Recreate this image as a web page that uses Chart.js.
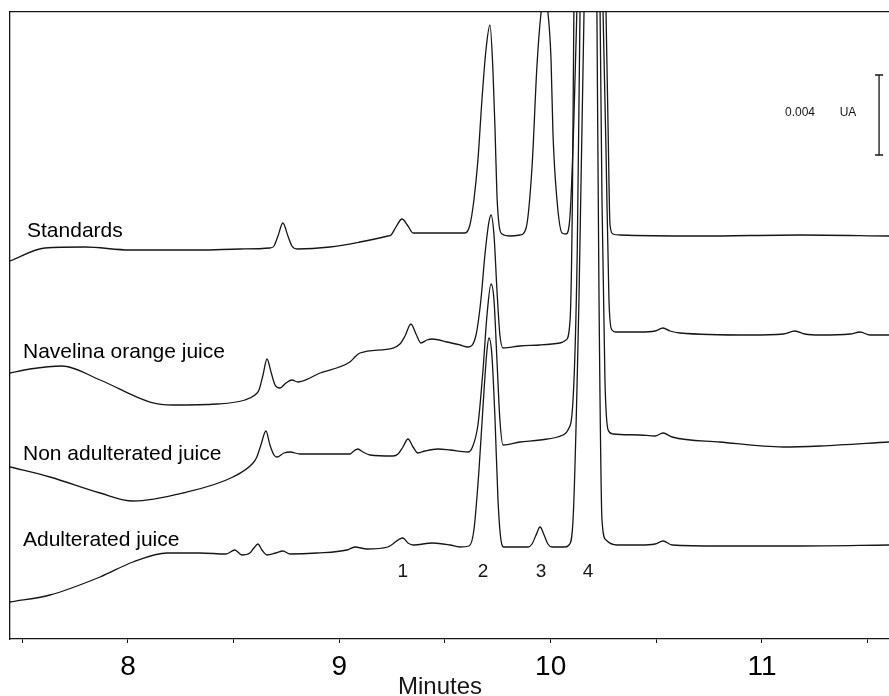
<!DOCTYPE html>
<html lang="en">
  <head>
    <meta charset="UTF-8" />
    <title>Chromatograms</title>
    <script src="https://cdn.jsdelivr.net/npm/chart.js"></script>
    <style>
      body { margin: 0; background: #fff; }
    </style>
  </head>
  <body>
    <canvas id="chromChart" width="889" height="696"></canvas>

    <script>
      // [retention time (min), absorbance (mAU)] - traces stacked as printed
      const standards = [
        [7.442, 18.9], [7.607, 19.55], [7.797, 19.6], [8.009, 19.45], [8.341, 19.45], [8.53, 19.5],
        [8.672, 19.55], [8.691, 19.65], [8.71, 20.15], [8.733, 20.8], [8.757, 20.15], [8.776, 19.65],
        [8.8, 19.5], [8.956, 19.6], [9.098, 19.85], [9.23, 20.15], [9.245, 20.2], [9.268, 20.6],
        [9.297, 21.0], [9.325, 20.65], [9.349, 20.3], [9.476, 20.3], [9.595, 20.3], [9.618, 20.7],
        [9.637, 21.95], [9.656, 23.95], [9.675, 26.95], [9.694, 29.45], [9.713, 30.7], [9.727, 28.45],
        [9.737, 25.45], [9.746, 22.2], [9.756, 20.7], [9.77, 20.25], [9.808, 20.15], [9.855, 20.2],
        [9.884, 20.55], [9.912, 23.6], [9.935, 28.6], [9.954, 31.25], [9.969, 32.2], [9.987, 31.35],
        [10.002, 28.95], [10.011, 25.3], [10.03, 21.95], [10.054, 20.3], [10.073, 20.25], [10.092, 21.2],
        [10.11, 25.95], [10.124, 31.35], [10.196, 61.95], [10.262, 31.35], [10.272, 25.45], [10.281, 20.7],
        [10.295, 20.25], [10.328, 20.2], [10.707, 20.15], [11.18, 20.2], [11.601, 20.15]
      ];
      const navelina = [
        [7.442, 13.3], [7.536, 13.5], [7.688, 13.65], [7.868, 12.95], [8.104, 11.85], [8.213, 11.7],
        [8.421, 11.75], [8.554, 11.95], [8.601, 12.2], [8.62, 12.45], [8.639, 13.2], [8.658, 14.0],
        [8.677, 13.35], [8.696, 12.7], [8.719, 12.55], [8.748, 12.8], [8.776, 12.95], [8.804, 12.85],
        [8.909, 13.3], [9.05, 13.85], [9.079, 14.15], [9.098, 14.3], [9.254, 14.55], [9.287, 14.75],
        [9.311, 15.15], [9.339, 15.75], [9.363, 15.25], [9.386, 14.8], [9.415, 14.95], [9.439, 15.0],
        [9.51, 14.85], [9.571, 14.7], [9.609, 14.6], [9.647, 15.2], [9.67, 16.95], [9.689, 19.2],
        [9.708, 20.85], [9.718, 21.2], [9.732, 20.2], [9.746, 17.45], [9.76, 15.2], [9.775, 14.55],
        [9.855, 14.65], [9.95, 14.7], [10.044, 14.8], [10.073, 14.95], [10.092, 15.95], [10.103, 21.95],
        [10.11, 31.35], [10.177, 61.95], [10.248, 31.35], [10.262, 24.45], [10.276, 16.95], [10.29, 15.45],
        [10.309, 15.35], [10.423, 15.35], [10.494, 15.4], [10.532, 15.55], [10.565, 15.4], [10.612, 15.3],
        [10.943, 15.2], [11.1, 15.25], [11.156, 15.4], [11.203, 15.25], [11.275, 15.2], [11.417, 15.25],
        [11.464, 15.35], [11.511, 15.2], [11.601, 15.2]
      ];
      const nonAdulterated = [
        [7.442, 8.6], [7.631, 8.1], [7.868, 7.3], [8.024, 6.9], [8.26, 7.3], [8.497, 8.1],
        [8.592, 8.8], [8.61, 9.1], [8.629, 9.7], [8.653, 10.4], [8.672, 9.7], [8.691, 9.2],
        [8.705, 9.1], [8.738, 9.3], [8.767, 9.35], [8.814, 9.25], [8.894, 9.25], [9.05, 9.25],
        [9.069, 9.4], [9.088, 9.5], [9.112, 9.35], [9.145, 9.2], [9.254, 9.15], [9.278, 9.25],
        [9.301, 9.6], [9.325, 10.0], [9.349, 9.6], [9.372, 9.3], [9.405, 9.4], [9.467, 9.5],
        [9.524, 9.45], [9.609, 9.35], [9.628, 9.55], [9.656, 10.7], [9.68, 13.45], [9.699, 16.2],
        [9.718, 17.75], [9.732, 16.95], [9.746, 13.95], [9.76, 10.95], [9.775, 9.7], [9.855, 9.85],
        [9.95, 9.95], [10.058, 10.2], [10.082, 10.45], [10.106, 11.95], [10.126, 19.45], [10.139, 31.35],
        [10.186, 61.95], [10.234, 31.35], [10.243, 21.95], [10.257, 12.95], [10.272, 10.45], [10.295, 10.25],
        [10.423, 10.2], [10.494, 10.15], [10.532, 10.3], [10.575, 10.1], [10.801, 9.85], [11.1, 9.6],
        [11.275, 9.65], [11.601, 9.85]
      ];
      const adulterated = [
        [7.442, 1.85], [7.631, 2.2], [7.868, 3.1], [8.024, 3.85], [8.185, 4.3], [8.341, 4.3],
        [8.464, 4.25], [8.506, 4.45], [8.539, 4.2], [8.577, 4.3], [8.596, 4.55], [8.615, 4.75],
        [8.634, 4.45], [8.658, 4.2], [8.7, 4.3], [8.733, 4.4], [8.767, 4.25], [8.894, 4.3],
        [9.036, 4.45], [9.074, 4.6], [9.131, 4.5], [9.23, 4.6], [9.301, 5.05], [9.325, 4.8],
        [9.349, 4.7], [9.443, 4.8], [9.524, 4.7], [9.571, 4.6], [9.614, 4.65], [9.637, 5.45],
        [9.661, 8.45], [9.685, 12.45], [9.699, 14.45], [9.708, 15.05], [9.722, 14.2], [9.737, 10.95],
        [9.751, 6.95], [9.765, 4.95], [9.779, 4.6], [9.893, 4.6], [9.912, 4.75], [9.931, 5.2],
        [9.95, 5.6], [9.969, 5.2], [9.987, 4.75], [10.006, 4.6], [10.068, 4.6], [10.087, 4.7],
        [10.106, 5.95], [10.134, 16.95], [10.158, 31.35], [10.196, 61.95], [10.219, 31.35], [10.229, 16.95],
        [10.243, 5.95], [10.262, 4.95], [10.314, 4.7], [10.423, 4.7], [10.494, 4.75], [10.532, 4.9],
        [10.575, 4.7], [10.801, 4.65], [11.18, 4.65], [11.601, 4.7]
      ];

      const traceNames = ["Standards", "Navelina orange juice", "Non adulterated juice", "Adulterated juice"];
      const xTickValues = [7.5, 8, 8.5, 9, 9.5, 10, 10.5, 11, 11.5];
      const xTickText = ["", "8", "", "9", "", "10", "", "11", ""];
      const peakNames = ["1", "2", "3", "4"];
      const peakTimes = [9.301, 9.68, 9.955, 10.177];
      const scaleBarTime = 11.554;
      const scaleBarAbs = [24.2, 28.2]; // 0.004 AU

      const xMin = 7.442;
      const xMax = 11.601;
      const font = "'Liberation Sans', Arial, sans-serif";
      const ink = "#161616";

      // text labels and the absorbance scale bar
      const annotations = {
        id: "annotations",
        afterDatasetsDraw(chart) {
          const { ctx, scales } = chart;
          const x = scales.x;
          const y = scales.y;
          const labelPos = [[27, 237], [23, 358], [23, 460], [23, 546]];
          ctx.save();
          ctx.fillStyle = "#000";
          ctx.textBaseline = "alphabetic";

          ctx.font = "21px " + font;
          ctx.textAlign = "left";
          traceNames.forEach((name, i) => ctx.fillText(name, labelPos[i][0], labelPos[i][1]));

          ctx.fillStyle = ink;
          ctx.font = "19px " + font;
          ctx.textAlign = "center";
          peakNames.forEach((n, i) => ctx.fillText(n, x.getPixelForValue(peakTimes[i]), 577));

          const bx = x.getPixelForValue(scaleBarTime);
          const yLo = y.getPixelForValue(scaleBarAbs[0]);
          const yHi = y.getPixelForValue(scaleBarAbs[1]);
          ctx.strokeStyle = ink;
          ctx.lineWidth = 1.3;
          ctx.beginPath();
          ctx.moveTo(bx, yLo);
          ctx.lineTo(bx, yHi);
          ctx.moveTo(bx - 4, yLo);
          ctx.lineTo(bx + 4, yLo);
          ctx.moveTo(bx - 4, yHi);
          ctx.lineTo(bx + 4, yHi);
          ctx.stroke();

          ctx.font = "12px " + font;
          ctx.fillText("0.004", 800, 116);
          ctx.fillText("UA", 848, 116);

          ctx.font = "24px " + font;
          ctx.fillText("Minutes", 440, 694);
          ctx.restore();
        },
      };

      const traces = [standards, navelina, nonAdulterated, adulterated];

      new Chart(document.getElementById("chromChart"), {
        type: "line",
        data: {
          datasets: traces.map((t, i) => ({
            label: traceNames[i],
            data: t,
            borderColor: ink,
            borderWidth: 1.3,
            pointRadius: 0,
            cubicInterpolationMode: "monotone",
            borderJoinStyle: "round",
            fill: false,
          })),
        },
        options: {
          responsive: false,
          animation: false,
          events: [],
          layout: { padding: { left: 10, top: 12, right: 0, bottom: 0 } },
          plugins: {
            legend: { display: false },
            tooltip: { enabled: false },
          },
          scales: {
            x: {
              type: "linear",
              position: "bottom",
              min: xMin,
              max: xMax,
              afterBuildTicks: (axis) => {
                axis.ticks = xTickValues.map((v) => ({ value: v }));
              },
              afterFit: (axis) => {
                axis.height = 57;
              },
              ticks: {
                autoSkip: false,
                maxRotation: 0,
                padding: 7,
                color: "#000",
                font: { family: font, size: 28 },
                callback: (value) => xTickText[xTickValues.indexOf(value)],
              },
              grid: {
                display: true,
                drawOnChartArea: false,
                drawTicks: true,
                tickLength: 4,
                color: ink,
              },
              border: { display: true, color: ink, width: 1.3 },
            },
            xTop: {
              type: "linear",
              position: "top",
              min: xMin,
              max: xMax,
              afterFit: (axis) => {
                axis.height = 0;
              },
              ticks: { display: false },
              grid: { display: false, drawTicks: false },
              border: { display: true, color: ink, width: 1.3 },
            },
            y: {
              type: "linear",
              min: 0,
              max: 31.35,
              afterFit: (axis) => {
                axis.width = 0;
              },
              ticks: { display: false },
              grid: { display: false, drawTicks: false },
              border: { display: true, color: ink, width: 1.3 },
            },
          },
        },
        plugins: [annotations],
      });
    </script>
  </body>
</html>
